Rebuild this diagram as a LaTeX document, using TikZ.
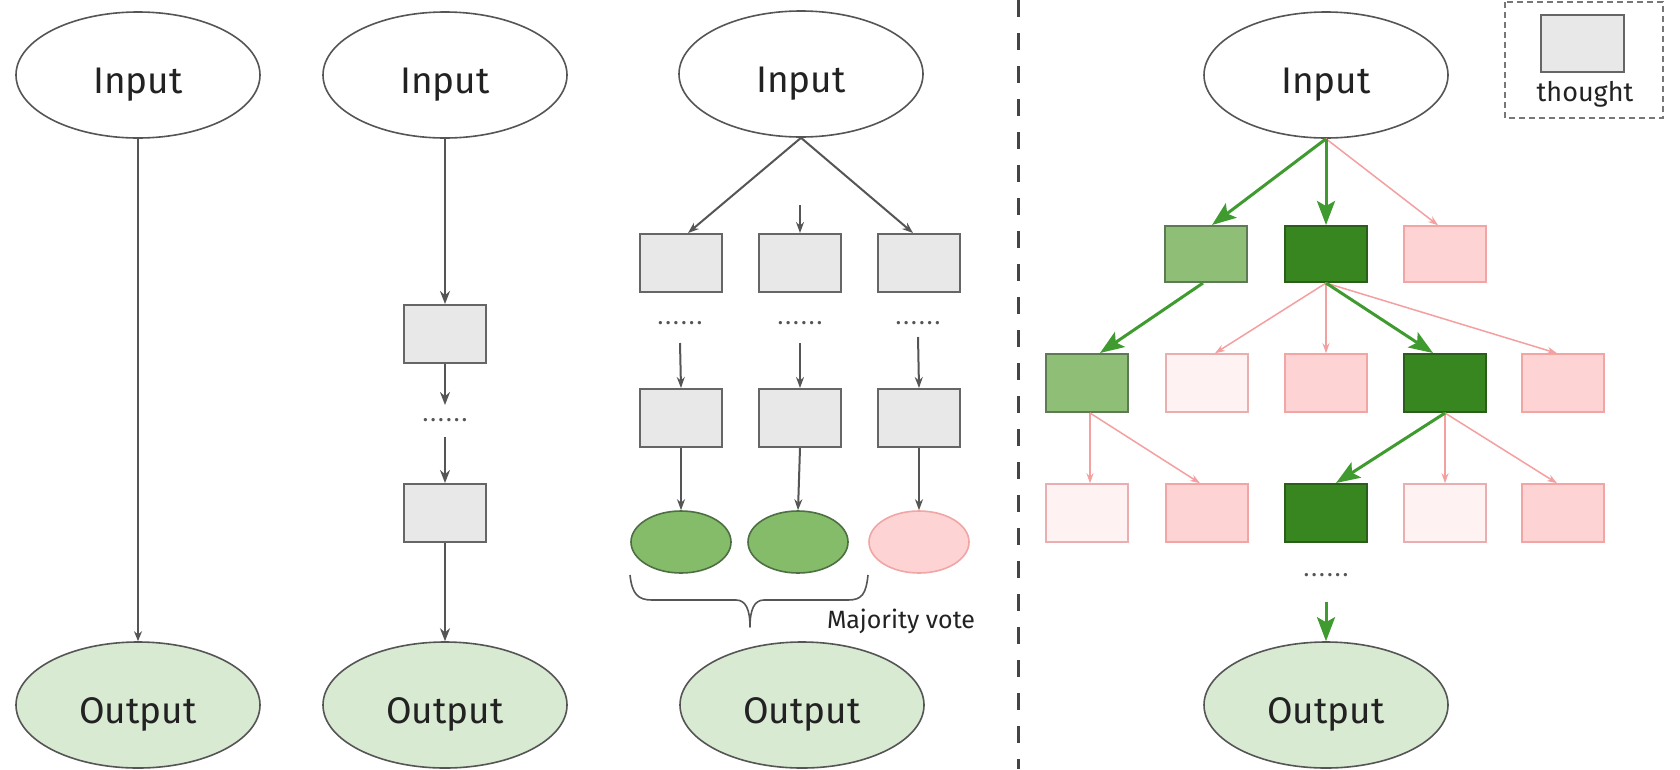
\documentclass[tikz,border=0pt]{standalone}
\usepackage{fontspec}
\setmainfont{Fira Sans}
\usetikzlibrary{arrows.meta,shapes.geometric,calc}
\definecolor{edgegray}{HTML}{555555}
\definecolor{txt}{HTML}{222222}
\definecolor{outgreen}{HTML}{D9EAD3}
\definecolor{boxgray}{HTML}{E8E8E8}
\definecolor{boxborder}{HTML}{666666}
\definecolor{lgfill}{HTML}{8FBF77}
\definecolor{lgdraw}{HTML}{5E7A55}
\definecolor{dgfill}{HTML}{38861F}
\definecolor{dgdraw}{HTML}{2A5E1A}
\definecolor{pkfill}{HTML}{FDD3D3}
\definecolor{pkdraw}{HTML}{F2A5A5}
\definecolor{vpfill}{HTML}{FEF2F2}
\definecolor{vpdraw}{HTML}{E9AEB0}
\definecolor{garrowc}{HTML}{3F9B2F}
\definecolor{parrowc}{HTML}{F4A0A0}
\definecolor{vgfill}{HTML}{84BC69}
\definecolor{vgdraw}{HTML}{4E6E44}
\newcommand{\sixdots}{.\kern2pt.\kern2pt.\kern2pt.\kern2pt.\kern2pt.}
\begin{document}
\begin{tikzpicture}[x=1pt,y=-1pt,
  io/.style={ellipse, draw=edgegray, line width=1.6pt, minimum width=244pt, minimum height=126pt, inner sep=0pt, font=\fontsize{37}{42}\selectfont, text=txt, text height=36pt, text depth=0pt},
  inp/.style={io, fill=white},
  outp/.style={io, fill=outgreen},
  thbox/.style={rectangle, draw=boxborder, fill=boxgray, line width=2pt, minimum width=82pt, minimum height=58pt, inner sep=0pt},
  lgbox/.style={thbox, fill=lgfill, draw=lgdraw},
  dgbox/.style={thbox, fill=dgfill, draw=dgdraw},
  pkbox/.style={thbox, fill=pkfill, draw=pkdraw, line width=1.5pt},
  vpbox/.style={thbox, fill=vpfill, draw=vpdraw, line width=1.5pt},
  vote/.style={ellipse, minimum width=100pt, minimum height=62pt, inner sep=0pt, line width=1.6pt},
  dotsty/.style={inner sep=0pt, font=\fontsize{24}{28}\selectfont, text=edgegray},
  grayarrow/.style={-{Stealth[length=10pt,width=8pt]}, draw=edgegray, line width=1.5pt},
  grayarrowb/.style={-{Stealth[length=13pt,width=10pt]}, draw=edgegray, line width=2.5pt},
  grayarrowc/.style={-{Stealth[length=11pt,width=8pt]}, draw=edgegray, line width=2pt},
  greenarrow/.style={-{Stealth[length=24pt,width=18pt,inset=5pt]}, draw=garrowc, line width=3pt},
  pinkarrow/.style={-{Stealth[length=10pt,width=7pt]}, draw=parrowc, line width=1.5pt}
]
\useasboundingbox (0,0) rectangle (1680,769);
\fill[white] (0,0) rectangle (1680,769);

% ---------- column 1 ----------
\node[inp] (in1) at (138,75) {Input};
\node[outp] (out1) at (138,705) {Output};
\draw[grayarrow] (in1.south) -- (out1.north);

% ---------- column 2 ----------
\node[inp] (in2) at (445,75) {Input};
\node[thbox] (b21) at (445,334) {};
\node[dotsty] (d2) at (445,420) {\sixdots};
\node[thbox] (b22) at (445,513) {};
\node[outp] (out2) at (445,705) {Output};
\coordinate (c2a) at (445,405);
\coordinate (c2b) at (445,437);
\draw[grayarrowb] (in2.south) -- (b21.north);
\draw[grayarrowb] (b21.south) -- (c2a);
\draw[grayarrowb] (c2b) -- (b22.north);
\draw[grayarrowb] (b22.south) -- (out2.north);

% ---------- column 3 ----------
\node[inp] (in3) at (801,74) {Input};
\node[thbox] (b31) at (681,263) {};
\node[thbox] (b32) at (800,263) {};
\node[thbox] (b33) at (919,263) {};
\node[dotsty] (d31) at (680,323) {\sixdots};
\node[dotsty] (d32) at (800,323) {\sixdots};
\node[dotsty] (d33) at (918,323) {\sixdots};
\node[thbox] (b41) at (681,418) {};
\node[thbox] (b42) at (800,418) {};
\node[thbox] (b43) at (919,418) {};
\node[vote, fill=vgfill, draw=vgdraw] (e1) at (681,542) {};
\node[vote, fill=vgfill, draw=vgdraw] (e2) at (798,542) {};
\node[vote, fill=pkfill, draw=pkdraw] (e3) at (919,542) {};
\node[outp] (out3) at (802,705) {Output};
\node[inner sep=0pt, font=\fontsize{25}{28}\selectfont, text=txt] (mv) at (901,621) {Majority vote};
\coordinate (c32) at (800,205);
\coordinate (c41) at (680,343);
\coordinate (c42) at (800,343);
\coordinate (c43) at (918,337);
\draw[grayarrowc] (in3.south) -- ($(b31.north)+(7,0)$);
\draw[grayarrowc] (c32) -- (b32.north);
\draw[grayarrowc] (in3.south) -- ($(b33.north)+(-6,0)$);
\draw[grayarrowc] (c41) -- (b41.north);
\draw[grayarrowc] (c42) -- (b42.north);
\draw[grayarrowc] (c43) -- (b43.north);
\draw[grayarrowc] (b41.south) -- (e1.north);
\draw[grayarrowc] (b42.south) -- (e2.north);
\draw[grayarrowc] (b43.south) -- (e3.north);
% brace
\draw[edgegray, line width=1.6pt, line join=round]
  (630,575) .. controls (632,594) and (638,600) .. (652,600)
  -- (736,600) .. controls (746,600) and (750,610) .. (750,627)
  .. controls (750,610) and (754,600) .. (764,600)
  -- (848,600) .. controls (862,600) and (866,594) .. (868,575);

% ---------- divider ----------
\draw[edgegray!80!black, line width=3pt, dash pattern=on 17pt off 16pt] (1018,0) -- (1018,769);

% ---------- tree ----------
\node[inp] (in4) at (1326,75) {Input};
\node[lgbox, minimum height=56pt] (t11) at (1206,254) {};
\node[dgbox, minimum height=56pt] (t12) at (1326,254) {};
\node[pkbox, minimum height=56pt] (t13) at (1445,254) {};
\node[lgbox] (t21) at (1087,383) {};
\node[vpbox] (t22) at (1207,383) {};
\node[pkbox] (t23) at (1326,383) {};
\node[dgbox] (t24) at (1445,383) {};
\node[pkbox] (t25) at (1563,383) {};
\node[vpbox] (t31) at (1087,513) {};
\node[pkbox] (t32) at (1207,513) {};
\node[dgbox] (t33) at (1326,513) {};
\node[vpbox] (t34) at (1445,513) {};
\node[pkbox] (t35) at (1563,513) {};
\node[dotsty] (d4) at (1326,575) {\sixdots};
\node[outp] (out4) at (1326,705) {Output};
\coordinate (c5) at (1326,602);

\draw[pinkarrow] (in4.south) -- ($(t13.north)+(-7,0)$);
\draw[pinkarrow] (t12.south) -- ($(t22.north)+(8,0)$);
\draw[pinkarrow] (t12.south) -- (t23.north);
\draw[pinkarrow] (t12.south) -- ($(t25.north)+(-6,0)$);
\draw[pinkarrow] ($(t21.south)+(3,0)$) -- ($(t31.north)+(3,0)$);
\draw[pinkarrow] ($(t21.south)+(3,0)$) -- ($(t32.north)+(-7,0)$);
\draw[pinkarrow] (t24.south) -- (t34.north);
\draw[pinkarrow] (t24.south) -- ($(t35.north)+(-6,0)$);

\draw[greenarrow] (in4.south) -- ($(t11.north)+(6,0)$);
\draw[greenarrow] (in4.south) -- (t12.north);
\draw[greenarrow] ($(t11.south)+(-3,0)$) -- ($(t21.north)+(13,0)$);
\draw[greenarrow] (t12.south) -- ($(t24.north)+(-12,0)$);
\draw[greenarrow] (t24.south) -- ($(t33.north)+(10,0)$);
\draw[greenarrow] (c5) -- (out4.north);

% ---------- legend ----------
\draw[edgegray!80, line width=2pt, dash pattern=on 6pt off 4pt] (1505,2) rectangle (1663,118);
\node[thbox, minimum width=83pt, minimum height=57pt] (lg) at (1582,43) {};
\node[inner sep=0pt, font=\fontsize{27}{30}\selectfont, text=txt] (lgt) at (1585,94) {thought};
\end{tikzpicture}
\end{document}
